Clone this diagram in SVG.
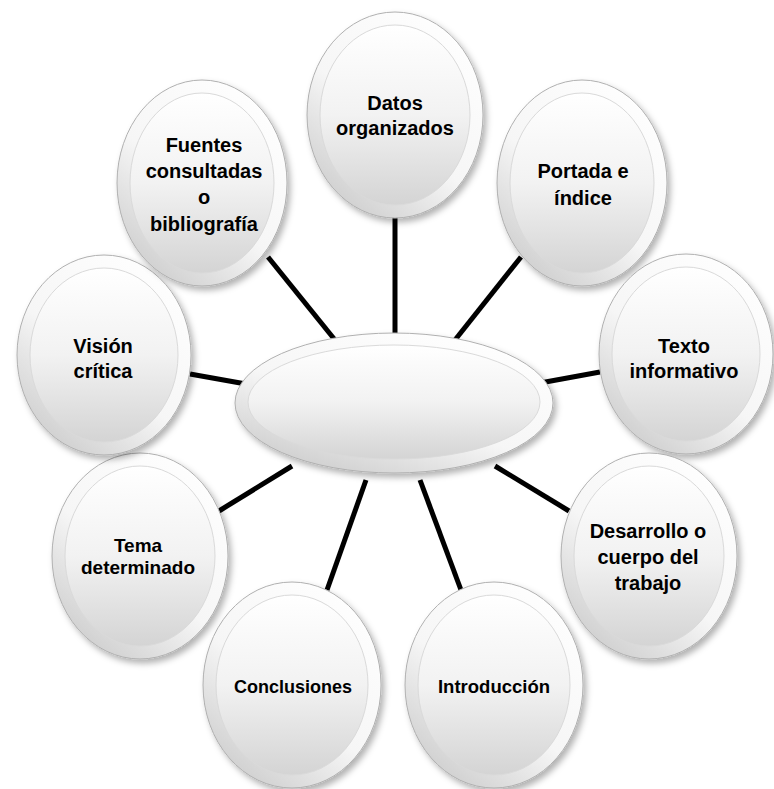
<svg xmlns="http://www.w3.org/2000/svg" width="774" height="789" viewBox="0 0 774 789">
<defs>
<linearGradient id="ring" x1="0.85" y1="0" x2="0.15" y2="1">
<stop offset="0" stop-color="#ffffff"/>
<stop offset="0.55" stop-color="#f6f6f6"/>
<stop offset="1" stop-color="#c9c9c9"/>
</linearGradient>
<linearGradient id="face" x1="0" y1="0" x2="0" y2="1">
<stop offset="0" stop-color="#ffffff"/>
<stop offset="0.5" stop-color="#f2f2f2"/>
<stop offset="1" stop-color="#d4d4d4"/>
</linearGradient>
<filter id="sh" x="-20%" y="-20%" width="140%" height="140%">
<feDropShadow dx="3" dy="4" stdDeviation="3" flood-color="#000" flood-opacity="0.3"/>
</filter>
</defs>
<style>
.outer{fill:url(#ring);stroke:#b0b0b0;stroke-width:1;filter:url(#sh)}
.inner{fill:url(#face);stroke:#dadada;stroke-width:1}
.conn line{stroke:#000;stroke-width:5;stroke-linecap:butt}
text{font-family:"Liberation Sans",Arial,sans-serif;font-weight:bold;font-size:20px;fill:#000;text-anchor:middle}
</style>
<rect width="774" height="789" fill="#ffffff"/>
<g id="connectors" class="conn">
<line x1="395" y1="217" x2="395" y2="340"/>
<line x1="521" y1="257" x2="455" y2="340"/>
<line x1="600" y1="372" x2="540" y2="383"/>
<line x1="569" y1="511" x2="495" y2="466"/>
<line x1="461" y1="590" x2="420" y2="480"/>
<line x1="327" y1="590" x2="366" y2="480"/>
<line x1="219" y1="511" x2="292" y2="466"/>
<line x1="190" y1="374" x2="246" y2="384"/>
<line x1="268" y1="257" x2="335" y2="340"/>
</g>
<g id="center">
<ellipse class="outer" cx="394" cy="403" rx="159" ry="70"/>
<ellipse class="inner" cx="394" cy="402" rx="146" ry="57"/>
</g>
<g id="datos">
<ellipse class="outer" cx="395" cy="115" rx="88" ry="103"/>
<ellipse class="inner" cx="395" cy="115" rx="75" ry="90"/>
<text x="395" y="110">Datos</text>
<text x="395" y="135">organizados</text>
</g>
<g id="portada">
<ellipse class="outer" cx="582" cy="183" rx="85" ry="103"/>
<ellipse class="inner" cx="582" cy="183" rx="72" ry="90"/>
<text x="583" y="178">Portada e</text>
<text x="583" y="205">índice</text>
</g>
<g id="texto">
<ellipse class="outer" cx="686" cy="354" rx="87" ry="100"/>
<ellipse class="inner" cx="686" cy="354" rx="74" ry="87"/>
<text x="684" y="353">Texto</text>
<text x="684" y="378">informativo</text>
</g>
<g id="desarrollo">
<ellipse class="outer" cx="649" cy="556" rx="88" ry="103"/>
<ellipse class="inner" cx="649" cy="556" rx="75" ry="90"/>
<text x="648" y="538">Desarrollo o</text>
<text x="648" y="564">cuerpo del</text>
<text x="648" y="590">trabajo</text>
</g>
<g id="introduccion">
<ellipse class="outer" cx="494" cy="685" rx="89" ry="103"/>
<ellipse class="inner" cx="494" cy="685" rx="76" ry="90"/>
<text x="494" y="693" style="font-size:18.5px">Introducción</text>
</g>
<g id="conclusiones">
<ellipse class="outer" cx="292" cy="685" rx="89" ry="103"/>
<ellipse class="inner" cx="292" cy="685" rx="76" ry="90"/>
<text x="293" y="693" style="font-size:18px">Conclusiones</text>
</g>
<g id="tema">
<ellipse class="outer" cx="140" cy="556" rx="88" ry="103"/>
<ellipse class="inner" cx="140" cy="556" rx="75" ry="90"/>
<text x="138" y="552" style="font-size:19px">Tema</text>
<text x="138" y="574" style="font-size:19px">determinado</text>
</g>
<g id="vision">
<ellipse class="outer" cx="104" cy="355" rx="87" ry="100"/>
<ellipse class="inner" cx="104" cy="355" rx="74" ry="87"/>
<text x="103" y="353">Visión</text>
<text x="103" y="378">crítica</text>
</g>
<g id="fuentes">
<ellipse class="outer" cx="202" cy="183" rx="85" ry="103"/>
<ellipse class="inner" cx="202" cy="183" rx="72" ry="90"/>
<text x="204" y="152">Fuentes</text>
<text x="204" y="178">consultadas</text>
<text x="204" y="204">o</text>
<text x="204" y="231">bibliografía</text>
</g>
</svg>
